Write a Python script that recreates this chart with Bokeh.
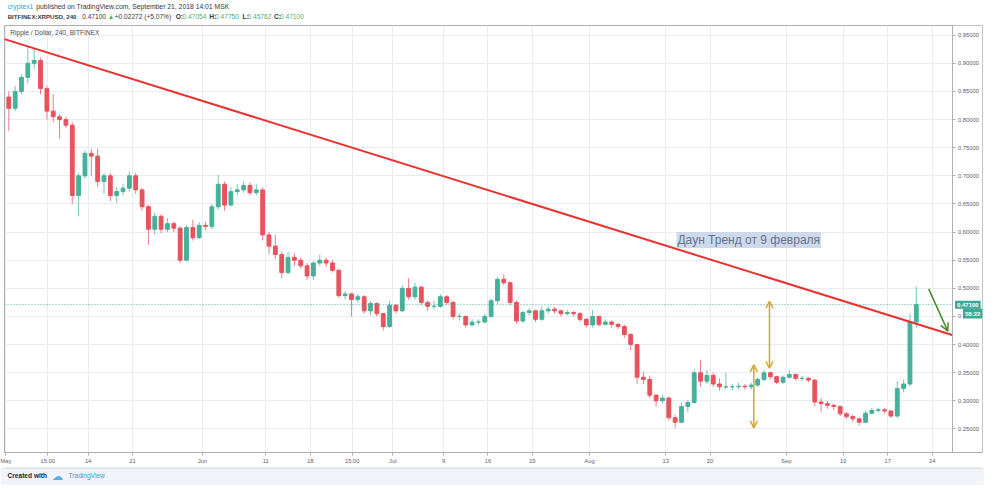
from datetime import datetime, timedelta
from bokeh.plotting import figure
from bokeh.models import (ColumnDataSource, Range1d, FixedTicker, PrintfTickFormatter,
                          Label, Span, Arrow, OpenHead, BoxAnnotation)
from bokeh.layouts import column
from bokeh.embed import file_html
from bokeh.resources import INLINE

# ---------------- data (daily candles) ----------------
first_open = 0.84
closes = [0.82, 0.85, 0.875, 0.90, 0.905, 0.855, 0.815, 0.805, 0.80, 0.79,
          0.665, 0.70, 0.74, 0.735, 0.69, 0.70, 0.665, 0.672, 0.678, 0.70,
          0.675, 0.645, 0.605, 0.628, 0.605, 0.615, 0.607, 0.55, 0.608, 0.59,
          0.612, 0.61, 0.645, 0.685, 0.648, 0.672, 0.675, 0.683, 0.67, 0.675,
          0.595, 0.575, 0.56, 0.528, 0.555, 0.55, 0.54, 0.522, 0.545, 0.55,
          0.545, 0.532, 0.487, 0.49, 0.48, 0.485, 0.46, 0.473, 0.455, 0.432,
          0.47, 0.46, 0.50, 0.485, 0.502, 0.475, 0.468, 0.468, 0.485, 0.475,
          0.45, 0.45, 0.435, 0.44, 0.44, 0.45, 0.478, 0.516, 0.51, 0.475,
          0.442, 0.457, 0.46, 0.445, 0.46, 0.463, 0.46, 0.455, 0.457, 0.455,
          0.445, 0.435, 0.45, 0.436, 0.44, 0.436, 0.432, 0.418, 0.40, 0.342,
          0.338, 0.31, 0.30, 0.305, 0.27, 0.262, 0.29, 0.297, 0.35, 0.335,
          0.345, 0.33, 0.325, 0.325, 0.325, 0.326, 0.325, 0.328, 0.338, 0.35,
          0.343, 0.333, 0.342, 0.347, 0.34, 0.34, 0.337, 0.298, 0.295, 0.292,
          0.29, 0.277, 0.272, 0.268, 0.262, 0.278, 0.283, 0.284, 0.282, 0.273,
          0.322, 0.33, 0.44, 0.471]
highs = [0.85, 0.86, 0.88, 0.93, 0.926, 0.91, 0.86, 0.845, 0.81, 0.805,
         0.795, 0.705, 0.745, 0.748, 0.748, 0.705, 0.705, 0.68, 0.685, 0.708,
         0.705, 0.678, 0.648, 0.635, 0.632, 0.625, 0.618, 0.61, 0.612, 0.622,
         0.618, 0.618, 0.65, 0.702, 0.69, 0.68, 0.685, 0.69, 0.688, 0.685,
         0.68, 0.60, 0.595, 0.565, 0.565, 0.562, 0.555, 0.545, 0.548, 0.56,
         0.555, 0.55, 0.535, 0.495, 0.492, 0.49, 0.488, 0.478, 0.475, 0.456,
         0.478, 0.472, 0.505, 0.518, 0.51, 0.505, 0.478, 0.478, 0.49, 0.488,
         0.478, 0.455, 0.452, 0.445, 0.445, 0.455, 0.482, 0.52, 0.525, 0.512,
         0.478, 0.46, 0.465, 0.462, 0.468, 0.468, 0.467, 0.462, 0.462, 0.46,
         0.458, 0.447, 0.462, 0.452, 0.445, 0.443, 0.438, 0.435, 0.42, 0.402,
         0.352, 0.345, 0.312, 0.31, 0.308, 0.275, 0.297, 0.302, 0.355, 0.372,
         0.355, 0.35, 0.34, 0.35, 0.33, 0.332, 0.33, 0.332, 0.342, 0.355,
         0.352, 0.345, 0.345, 0.355, 0.348, 0.345, 0.342, 0.338, 0.305, 0.30,
         0.295, 0.292, 0.28, 0.275, 0.27, 0.283, 0.288, 0.288, 0.287, 0.283,
         0.335, 0.338, 0.455, 0.503]
lows = [0.78, 0.815, 0.845, 0.865, 0.89, 0.845, 0.80, 0.795, 0.766, 0.785,
        0.65, 0.628, 0.695, 0.70, 0.68, 0.668, 0.655, 0.652, 0.665, 0.672,
        0.668, 0.638, 0.577, 0.595, 0.598, 0.60, 0.60, 0.545, 0.548, 0.585,
        0.588, 0.603, 0.605, 0.64, 0.638, 0.645, 0.665, 0.67, 0.665, 0.665,
        0.585, 0.56, 0.552, 0.518, 0.525, 0.54, 0.535, 0.515, 0.515, 0.54,
        0.538, 0.528, 0.483, 0.48, 0.45, 0.475, 0.455, 0.452, 0.45, 0.425,
        0.43, 0.455, 0.458, 0.48, 0.48, 0.47, 0.46, 0.462, 0.465, 0.47,
        0.445, 0.443, 0.43, 0.432, 0.435, 0.438, 0.447, 0.472, 0.505, 0.47,
        0.437, 0.438, 0.452, 0.44, 0.442, 0.455, 0.455, 0.45, 0.452, 0.45,
        0.44, 0.43, 0.43, 0.432, 0.434, 0.43, 0.428, 0.412, 0.39, 0.33,
        0.33, 0.305, 0.29, 0.295, 0.265, 0.252, 0.26, 0.28, 0.295, 0.325,
        0.33, 0.325, 0.318, 0.32, 0.318, 0.32, 0.32, 0.32, 0.325, 0.335,
        0.338, 0.33, 0.33, 0.34, 0.336, 0.335, 0.333, 0.29, 0.28, 0.286,
        0.284, 0.273, 0.268, 0.262, 0.256, 0.26, 0.276, 0.279, 0.277, 0.27,
        0.27, 0.315, 0.325, 0.43]
start_day = datetime(2018, 5, 1)

tick_dates = [datetime(2018, 5, 1), datetime(2018, 5, 7, 15), datetime(2018, 5, 14),
              datetime(2018, 5, 21), datetime(2018, 6, 1), datetime(2018, 6, 11),
              datetime(2018, 6, 18), datetime(2018, 6, 24, 15), datetime(2018, 7, 1),
              datetime(2018, 7, 9), datetime(2018, 7, 16), datetime(2018, 7, 23),
              datetime(2018, 8, 1), datetime(2018, 8, 13), datetime(2018, 8, 20),
              datetime(2018, 9, 1), datetime(2018, 9, 10), datetime(2018, 9, 17),
              datetime(2018, 9, 24)]
tick_labels = ["May", "15:00", "14", "21", "Jun", "11", "18", "15:00", "Jul", "9",
               "16", "23", "Aug", "13", "20", "Sep", "10", "17", "24"]
price_ticks = [0.25, 0.30, 0.35, 0.40, 0.45, 0.50, 0.55, 0.60, 0.65, 0.70, 0.75,
               0.80, 0.85, 0.90, 0.95]

x_start = datetime(2018, 4, 30, 19, 44)     # left frame edge
axis_x = datetime(2018, 9, 27, 6, 43)       # price-scale border
x_end = datetime(2018, 10, 1, 22, 19)       # right edge of the price-scale area
y_start, y_end = 0.2082, 0.9672

trend_dates = [x_start, axis_x]
trend_prices = [0.943, 0.4165]
last_price = 0.471
countdown_price = 0.4552
arrow1_date, arrow1_prices = datetime(2018, 8, 26, 21, 30), (0.252, 0.364)
arrow2_date, arrow2_prices = datetime(2018, 8, 29, 8, 40), (0.358, 0.477)
green_dates = [datetime(2018, 9, 23, 10, 48), datetime(2018, 9, 26, 11, 0)]
green_prices = [0.499, 0.424]
note_date, note_price = datetime(2018, 8, 14, 17, 0), 0.586

UP = "#45b19a"
DOWN = "#e8525c"
FONT = "Liberation Sans"
GRID = "#e7ecf0"
BORDER = "#aab0b6"


def ms(dt):
    return (dt - datetime(1970, 1, 1)).total_seconds() * 1000.0


dates = [start_day + timedelta(days=i, hours=12) for i in range(len(closes))]
opens = [first_open] + closes[:-1]
colors = [UP if c >= o else DOWN for o, c in zip(opens, closes)]
src = ColumnDataSource(dict(
    x=dates, h=highs, l=lows, c=closes, o=opens, color=colors,
    top=[max(o, c) for o, c in zip(opens, closes)],
    bottom=[min(o, c) for o, c in zip(opens, closes)]))


def lab(plot, text, x, y, color, size="6.6px", bold=False):
    plot.add_layout(Label(x=x, y=y, x_units="screen", y_units="screen", text=text,
                          text_color=color, text_font_size=size, text_font=FONT,
                          text_font_style="bold" if bold else "normal",
                          text_baseline="middle", text_align="left"))


# ---------------- header ----------------
h = figure(width=984, height=25, toolbar_location=None, output_backend="svg",
           x_range=Range1d(0, 1), y_range=Range1d(0, 1), title=None,
           min_border=0, min_border_left=0, min_border_right=0,
           min_border_top=0, min_border_bottom=0)
h.axis.visible = False
h.grid.visible = False
h.outline_line_color = None
h.background_fill_color = "white"
h.border_fill_color = "white"
DARK = "#333842"
HGREEN = "#4caf6e"
y1, y2 = 19.2, 9.5
lab(h, "cryptex1", 3.2, y1, "#3d9be0", "6.8px")
lab(h, "published on TradingView.com, September 21, 2018 14:01 MSK", 31.8, y1, DARK, "6.8px")
lab(h, "BITFINEX:XRPUSD, 240", 3.2, y2, DARK, "6.1px", bold=True)
lab(h, "0.47100", 77.7, y2, DARK)
lab(h, "▲", 103.3, y2, HGREEN)
lab(h, "+0.02272 (+5.07%)", 110.2, y2, DARK)
for lx, key, vx, val in ((171.2, "O:", 178.1, "0.47054"), (204.7, "H:", 210.6, "0.47750"),
                         (238.1, "L:", 243.0, "0.45762"), (269.6, "C:", 275.5, "0.47100")):
    lab(h, key, lx, y2, DARK, bold=True)
    lab(h, val, vx, y2, HGREEN)

# ---------------- main chart ----------------
FW, FH = 978, 427
p = figure(width=984, height=442, x_axis_type="datetime", y_axis_location="right",
           x_range=Range1d(ms(x_start), ms(x_end)), y_range=Range1d(y_start, y_end),
           toolbar_location=None, output_backend="svg", title=None,
           min_border_left=4, min_border_right=2, min_border_top=0, min_border_bottom=15)
p.background_fill_color = "white"
p.border_fill_color = "white"
p.outline_line_color = BORDER
p.outline_line_width = 1

p.xaxis.ticker = FixedTicker(ticks=[ms(d) for d in tick_dates])
p.xaxis.major_label_overrides = {ms(d): t for d, t in zip(tick_dates, tick_labels)}
p.yaxis.ticker = FixedTicker(ticks=price_ticks)
p.yaxis.formatter = PrintfTickFormatter(format="%.5f")
p.yaxis.fixed_location = ms(axis_x)
for ax in (p.xaxis, p.yaxis):
    ax.axis_line_color = BORDER
    ax.major_tick_line_color = BORDER
    ax.major_tick_out = 3
    ax.major_tick_in = 0
    ax.minor_tick_line_color = None
    ax.major_label_text_font = FONT
    ax.major_label_text_font_size = "5.8px"
    ax.major_label_text_color = "#5d606b"
    ax.major_label_standoff = 2
p.xgrid.grid_line_color = GRID
p.ygrid.grid_line_color = GRID

# blank price-scale area (hides the grid to the right of the border)
p.add_layout(BoxAnnotation(left=ms(axis_x), fill_color="white", fill_alpha=1.0,
                           line_alpha=0, level="underlay"))

# candles
p.segment(x0="x", y0="h", x1="x", y1="l", line_color="color", line_alpha=0.75,
          line_width=1, source=src)
p.vbar(x="x", width=0.6 * 86400000, top="top", bottom="bottom",
       fill_color="color", line_color="color", source=src)

# last price dotted line
p.line([ms(x_start), ms(axis_x)], [last_price, last_price], line_color="#3fa99a",
       line_dash="1 2", line_width=1)

# trend line
p.line([ms(d) for d in trend_dates], trend_prices, line_color="#e8322f", line_width=2)

# arrows
GOLD = "#d4a72c"
for d, (a, b) in ((arrow1_date, arrow1_prices), (arrow2_date, arrow2_prices)):
    p.add_layout(Arrow(x_start=ms(d), y_start=a, x_end=ms(d), y_end=b,
                       line_color=GOLD, line_width=1.5,
                       start=OpenHead(size=7, line_color=GOLD, line_width=1.5),
                       end=OpenHead(size=7, line_color=GOLD, line_width=1.5)))
GREEN = "#4a8a2c"
p.add_layout(Arrow(x_start=ms(green_dates[0]), y_start=green_prices[0],
                   x_end=ms(green_dates[1]), y_end=green_prices[1],
                   line_color=GREEN, line_width=1.5,
                   end=OpenHead(size=8, line_color=GREEN, line_width=1.5)))

# text note
p.add_layout(Label(x=ms(note_date), y=note_price, text="Даун Тренд от 9 февраля",
                   text_font=FONT, text_font_size="12px", text_color="#62738f",
                   text_baseline="middle", text_align="left",
                   background_fill_color="#c6d4e7", background_fill_alpha=0.85,
                   padding=1))

# price-scale boxes
p.add_layout(Label(x=950.5, y=last_price, x_units="screen", text="0.47100",
                   text_font=FONT, text_font_size="6px", text_font_style="bold",
                   text_color="white", text_baseline="middle", text_align="left",
                   background_fill_color="#3ea896", padding=2))
p.add_layout(Label(x=958.5, y=countdown_price, x_units="screen", text="58:22",
                   text_font=FONT, text_font_size="6px", text_font_style="bold",
                   text_color="white", text_baseline="middle", text_align="left",
                   background_fill_color="#3ea896", padding=2))

# legend inside frame
lab(p, "Ripple / Dollar, 240, BITFINEX", 5.8, FH - 7, "#4a4e57", "6.6px")

# ---------------- footer ----------------
f = figure(width=984, height=18, toolbar_location=None, output_backend="svg",
           x_range=Range1d(0, 1), y_range=Range1d(0, 1), title=None,
           min_border=0, min_border_left=0, min_border_right=0,
           min_border_top=0, min_border_bottom=0)
f.axis.visible = False
f.grid.visible = False
f.outline_line_color = None
f.background_fill_color = "#f0f3f8"
f.border_fill_color = "#f0f3f8"
f.add_layout(Span(location=0.97, dimension="width", line_color="#c9ced6", line_width=1))
lab(f, "Created with", 3, 9.7, "#1f2a37", "6.6px", bold=True)
lab(f, "☁", 47, 10, "#5aaee6", "11px")
lab(f, "TradingView", 64, 9.7, "#3a9ce2", "6.6px")

layout = column(h, p, f, spacing=0)
open("out.html", "w").write(file_html(layout, INLINE))
